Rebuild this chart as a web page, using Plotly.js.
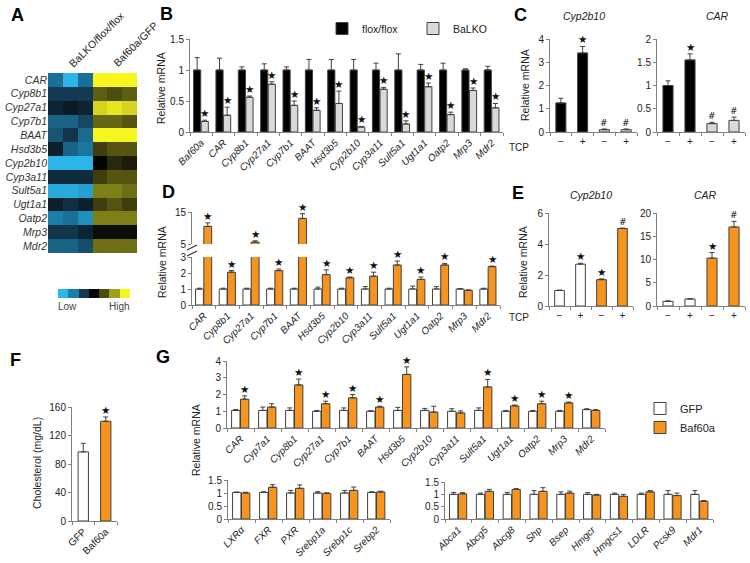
<!DOCTYPE html>
<html><head><meta charset="utf-8">
<script src="https://cdn.plot.ly/plotly-3.0.1.min.js"></script>
<style>html,body{margin:0;padding:0;background:#fff}#chart{width:750px;height:563px}</style>
</head><body><div id="chart"></div>
<script>
// ---------------- DATA ----------------
// Panel A heatmap
const heatGenes = ['CAR','Cyp8b1','Cyp27a1','Cyp7b1','BAAT','Hsd3b5','Cyp2b10','Cyp3a11','Sult5a1','Ugt1a1','Oatp2','Mrp3','Mdr2'];
const heatSamples = ['BaLKO-1','BaLKO-2','BaLKO-3','Baf60a-1','Baf60a-2','Baf60a-3'];
const heatZ = [
 [-1.8,-3,-1.8, 3,3,3],
 [-1,-1,-1, 1.2,1,1.2],
 [-0.6,-0.4,-0.6, 2.6,2.8,2.6],
 [-1.6,-1.6,-1.2, 1.3,1.3,1.1],
 [-1.4,-0.9,-1.7, 3,3,3],
 [-0.5,-1.6,-1.9, 0.8,1.1,1.1],
 [-3,-3,-3, 0,0.5,0.3],
 [-0.7,-0.7,-0.7, 0.8,1.1,1.1],
 [-2.8,-2.8,-2.6, 1.6,1.6,1.4],
 [-0.5,-0.8,-0.5, 0.8,1.1,0.8],
 [-2,-1.8,-2.3, 1.6,1.6,1.6],
 [-0.9,-0.9,-0.6, 0.1,0.1,0.1],
 [-1.6,-1.6,-1.3, 1.4,1.4,1.4]
];
const heatKey = [-3,-2,-1,0,1,2,3];
const heatColumnLabels = ['BaLKO/flox/flox','Baf60a/GFP'];

// Panel B
const bGenes = ['Baf60a','CAR','Cyp8b1','Cyp27a1','Cyp7b1','BAAT','Hsd3b5','Cyp2b10','Cyp3a11','Sult5a1','Ugt1a1','Oatp2','Mrp3','Mdr2'];
const bFlox    = [1,1,1,1,1,1,1,1,1,1,1,1,1,1];
const bFloxErr = [0.2,0.19,0.05,0.1,0.05,0.17,0.17,0.17,0.11,0.26,0.09,0.11,0.02,0.06];
const bKO      = [0.17,0.27,0.56,0.77,0.43,0.35,0.46,0.08,0.69,0.13,0.73,0.28,0.67,0.39];
const bKOErr   = [0.02,0.13,0.02,0.04,0.07,0.04,0.2,0.01,0.03,0.05,0.06,0.04,0.04,0.07];
const bKOMark  = ['★','★','★','★','★','★','★','★','★','★','★','★','★','★'];

// Panel C
const tcp = ['−','+','−','+'];
const cCyp = [1.25,3.4,0.1,0.1];
const cCypErr = [0.2,0.28,0.03,0.03];
const cCypMark = ['','★','#','#'];
const cCar = [1.0,1.55,0.18,0.25];
const cCarErr = [0.1,0.13,0.03,0.07];
const cCarMark = ['','★','#','#'];

// Panel D
const dGenes = ['CAR','Cyp8b1','Cyp27a1','Cyp7b1','BAAT','Hsd3b5','Cyp2b10','Cyp3a11','Sult5a1','Ugt1a1','Oatp2','Mrp3','Mdr2'];
const dGFP    = [1,1,1,1,1,1,1,1,1,1,1,1,1];
const dGFPErr = [0.05,0.05,0.05,0.05,0.05,0.12,0.05,0.15,0.05,0.18,0.15,0.02,0.05];
const dBaf    = [10.5,2.05,5.6,2.15,13,1.9,1.7,1.8,2.5,1.6,2.5,0.92,2.4];
const dBafErr = [1.1,0.1,0.4,0.1,1.5,0.3,0.05,0.25,0.25,0.15,0.1,0.02,0.03];
const dBafMark = ['★','★','★','★','★','★','★','★','★','★','★','','★'];

// Panel E
const eCyp = [1.0,2.7,1.7,5.0];
const eCypErr = [0.03,0.06,0.05,0.03];
const eCypMark = ['','★','★','#'];
const eCar = [1.0,1.5,10.3,17];
const eCarErr = [0.1,0.1,1.2,1.2];
const eCarMark = ['','','★','#'];

// Panel F
const fGroups = ['GFP','Baf60a'];
const fChol = [97,140];
const fErr = [12,6];
const fMark = ['','★'];

// Panel G (upper)
const gGenes = ['CAR','Cyp7a1','Cyp8b1','Cyp27a1','Cyp7b1','BAAT','Hsd3b5','Cyp2b10','Cyp3a11','Sult5a1','Ugt1a1','Oatp2','Mrp3','Mdr2'];
const gGFP    = [1.05,1.05,1.05,1.0,1.05,1.0,1.05,1.05,1.0,1.05,1.0,1.0,1.0,1.1];
const gGFPErr = [0.05,0.2,0.15,0.05,0.15,0.03,0.18,0.12,0.15,0.15,0.05,0.05,0.05,0.05];
const gBaf    = [1.72,1.25,2.57,1.45,1.8,1.25,3.2,0.95,0.9,2.45,1.32,1.45,1.5,1.05];
const gBafErr = [0.2,0.2,0.35,0.15,0.2,0.05,0.45,0.35,0.12,0.45,0.05,0.15,0.05,0.05];
const gBafMark = ['★','','★','★','★','★','★','','','★','★','★','★',''];
// Panel G (lower left)
const g2Genes = ['LXRα','FXR','PXR','Srebp1a','Srebp1c','Srebp2'];
const g2GFP    = [1.02,1.02,1.0,1.0,1.0,1.02];
const g2GFPErr = [0.02,0.03,0.1,0.05,0.1,0.03];
const g2Baf    = [1.0,1.22,1.18,0.98,1.1,1.04];
const g2BafErr = [0.03,0.1,0.13,0.03,0.13,0.03];
// Panel G (lower right)
const g3Genes = ['Abca1','Abcg5','Abcg8','Shp','Bsep','Hmgcr','Hmgcs1','LDLR','Pcsk9','Mdr1'];
const g3GFP    = [1.0,1.0,1.0,1.0,1.0,1.0,1.0,1.0,1.0,1.0];
const g3GFPErr = [0.08,0.05,0.08,0.15,0.1,0.07,0.05,0.05,0.15,0.15];
const g3Baf    = [1.02,1.12,1.2,1.12,1.05,0.97,0.92,1.1,0.95,0.72];
const g3BafErr = [0.05,0.08,0.03,0.15,0.08,0.03,0.08,0.05,0.1,0.03];

// ---------------- STYLE / LAYOUT HELPERS ----------------
const W = 750, H = 563;
const FONT = 'Liberation Sans, Arial, sans-serif';
const AX = '#808080', TXT = '#222222', OUT = '#404040';
const C_BLACK = '#000000', C_GREY = '#d9d9d9', C_ORANGE = '#f7941d', C_WHITE = '#ffffff';
const px = v => v / W;
const py = v => 1 - v / H;
const dom = (a, b) => [a / W, b / W];
const ydom = (top, bottom) => [1 - bottom / H, 1 - top / H];
const idx = arr => arr.map((_, i) => i);

function yAx(top, bottom, range, tickvals, anchor) {
  return {domain: ydom(top, bottom), range: range, tickmode: 'array', tickvals: tickvals, anchor: anchor,
    showgrid: false, zeroline: false, showline: true, linecolor: AX, linewidth: 1,
    ticks: 'outside', ticklen: 3, tickcolor: AX, tickfont: {size: 10, color: TXT}, fixedrange: true};
}
function xAx(left, right, labels, anchor, angle, italic) {
  return {domain: dom(left, right), range: [-0.5, labels.length - 0.5], tickmode: 'array',
    tickvals: idx(labels), ticktext: labels.map(l => italic ? '<i>' + l + '</i>' : l),
    tickangle: angle, anchor: anchor, showgrid: false, zeroline: false, showline: true,
    linecolor: AX, linewidth: 1, ticks: '', tickfont: {size: 10, color: TXT},
    minor: {tickmode: 'linear', tick0: -0.5, dtick: 1, ticks: 'outside', ticklen: 3, tickcolor: AX, showgrid: false},
    fixedrange: true};
}
function bars(vals, errs, color, xa, ya, offset, width, name, legend, showlegend) {
  return {type: 'bar', x: idx(vals), y: vals, xaxis: xa, yaxis: ya, offset: offset, width: width,
    marker: {color: color, line: {color: OUT, width: 1}},
    error_y: {type: 'data', symmetric: false, array: errs, arrayminus: errs.map(() => 0),
      color: OUT, thickness: 1, width: 2.5},
    name: name, legend: legend || 'legend', showlegend: !!showlegend, hoverinfo: 'skip'};
}
function marks(vals, errs, labels, xa, ya, dx, size) {
  const out = [];
  labels.forEach((t, i) => {
    if (!t) return;
    out.push({x: i + dx, y: vals[i] + errs[i], xref: xa, yref: ya, text: t, showarrow: false,
      yanchor: 'bottom', xanchor: 'center', yshift: -1,
      font: {size: t === '#' ? 9 : (size || 10.5), color: '#111', family: 'DejaVu Sans, ' + FONT}});
  });
  return out;
}
function ann(text, x, y, o) {
  return Object.assign({text: text, x: px(x), y: py(y), xref: 'paper', yref: 'paper', showarrow: false,
    xanchor: 'center', yanchor: 'middle',
    font: {size: 10, color: TXT, family: FONT}}, o || {});
}
function yTitle(x, y) {
  return ann('Relative mRNA', x, y, {textangle: -90, font: {size: 10.5, color: TXT, family: FONT}});
}

// ---------------- TRACES ----------------
const heatScale = [[0,'#2bb5e8'],[1/6,'#1c7ea8'],[2/6,'#133a52'],[0.5,'#050505'],[4/6,'#4d4d10'],[5/6,'#a0a01c'],[1,'#f7f51e']];
const traces = [];
traces.push({type: 'heatmap', z: heatZ, x: heatSamples, y: heatGenes, xaxis: 'x', yaxis: 'y',
  colorscale: heatScale, zmin: -3, zmax: 3, showscale: false, hoverinfo: 'skip'});
traces.push({type: 'heatmap', z: [heatKey], x: heatKey, y: ['key'], xaxis: 'x2', yaxis: 'y2',
  colorscale: heatScale, zmin: -3, zmax: 3, showscale: false, hoverinfo: 'skip'});

// B
traces.push(bars(bFlox, bFloxErr, C_BLACK, 'x3', 'y3', -0.34, 0.32, 'flox/flox', 'legend', true));
traces.push(bars(bKO, bKOErr, C_GREY, 'x3', 'y3', 0.0, 0.32, 'BaLKO', 'legend', true));
// C
const cColors = [C_BLACK, C_BLACK, C_GREY, C_GREY];
traces.push(bars(cCyp, cCypErr, cColors, 'x4', 'y4', -0.23, 0.46, 'Cyp2b10'));
traces.push(bars(cCar, cCarErr, cColors, 'x5', 'y5', -0.23, 0.46, 'CAR'));
// D
traces.push(bars(dGFP, dGFPErr, C_WHITE, 'x6', 'y6', -0.35, 0.33, 'GFP'));
traces.push(bars(dBaf, dBafErr, C_ORANGE, 'x6', 'y6', 0.0, 0.33, 'Baf60a'));
traces.push(bars(dBaf, dBafErr, C_ORANGE, 'x6', 'y7', 0.0, 0.33, 'Baf60a'));
// E
const eColors = [C_WHITE, C_WHITE, C_ORANGE, C_ORANGE];
traces.push(bars(eCyp, eCypErr, eColors, 'x8', 'y8', -0.23, 0.46, 'Cyp2b10'));
traces.push(bars(eCar, eCarErr, eColors, 'x9', 'y9', -0.23, 0.46, 'CAR'));
// F
traces.push(bars(fChol, fErr, [C_WHITE, C_ORANGE], 'x10', 'y10', -0.23, 0.46, 'Cholesterol'));
// G
traces.push(bars(gGFP, gGFPErr, C_WHITE, 'x11', 'y11', -0.33, 0.31, 'GFP', 'legend2', true));
traces.push(bars(gBaf, gBafErr, C_ORANGE, 'x11', 'y11', 0.0, 0.31, 'Baf60a', 'legend2', true));
traces.push(bars(g2GFP, g2GFPErr, C_WHITE, 'x12', 'y12', -0.33, 0.31, 'GFP'));
traces.push(bars(g2Baf, g2BafErr, C_ORANGE, 'x12', 'y12', 0.0, 0.31, 'Baf60a'));
traces.push(bars(g3GFP, g3GFPErr, C_WHITE, 'x13', 'y13', -0.33, 0.31, 'GFP'));
traces.push(bars(g3Baf, g3BafErr, C_ORANGE, 'x13', 'y13', 0.0, 0.31, 'Baf60a'));

// ---------------- ANNOTATIONS ----------------
let annotations = [];
const panel = (t, x, y) => ann('<b>' + t + '</b>', x, y, {font: {size: 18, color: '#000', family: FONT}});
annotations.push(panel('A', 17, 15), panel('B', 166, 14), panel('C', 520, 15),
  panel('D', 168, 192), panel('E', 518, 193), panel('F', 15, 360), panel('G', 163, 357));
// heatmap column labels & key
annotations.push(ann(heatColumnLabels[0], 64, 72, {textangle: -45, xanchor: 'left', yanchor: 'bottom', font: {size: 10.5, color: TXT, family: FONT}}));
annotations.push(ann(heatColumnLabels[1], 108, 72, {textangle: -45, xanchor: 'left', yanchor: 'bottom', font: {size: 10.5, color: TXT, family: FONT}}));
annotations.push(ann('Low', 67, 306, {font: {size: 10, color: '#444', family: FONT}}));
annotations.push(ann('High', 119, 306, {font: {size: 10, color: '#444', family: FONT}}));
// y titles
annotations.push(yTitle(161, 88), yTitle(525, 85), yTitle(162, 262), yTitle(523, 262), yTitle(196, 440));
annotations.push(ann('Cholesterol (mg/dL)', 37, 463, {textangle: -90, font: {size: 10.5, color: TXT, family: FONT}}));
// C / E headers
annotations.push(ann('<i>Cyp2b10</i>', 584, 16, {font: {size: 10.5, color: TXT, family: FONT}}));
annotations.push(ann('<i>CAR</i>', 717, 16, {font: {size: 10.5, color: TXT, family: FONT}}));
annotations.push(ann('<i>Cyp2b10</i>', 591, 195, {font: {size: 10.5, color: TXT, family: FONT}}));
annotations.push(ann('<i>CAR</i>', 705, 195, {font: {size: 10.5, color: TXT, family: FONT}}));
annotations.push(ann('TCP', 519, 147, {font: {size: 10, color: TXT, family: FONT}}));
annotations.push(ann('TCP', 519, 317, {font: {size: 10, color: TXT, family: FONT}}));
// significance marks
annotations = annotations.concat(
  marks(bKO, bKOErr, bKOMark, 'x3', 'y3', 0.16),
  marks(cCyp, cCypErr, cCypMark, 'x4', 'y4', 0),
  marks(cCar, cCarErr, cCarMark, 'x5', 'y5', 0),
  marks(eCyp, eCypErr, eCypMark, 'x8', 'y8', 0),
  marks(eCar, eCarErr, eCarMark, 'x9', 'y9', 0),
  marks(fChol, fErr, fMark, 'x10', 'y10', 0),
  marks(gBaf, gBafErr, gBafMark, 'x11', 'y11', 0.155)
);
// D marks: place in upper segment when above the break
dBafMark.forEach((t, i) => {
  if (!t) return;
  const top = dBaf[i] + dBafErr[i];
  annotations = annotations.concat(marks([top], [0], [t], 'x6', top > 3 ? 'y7' : 'y6', 0.165).map(a => Object.assign(a, {x: i + 0.165})));
});

// break marks on D axis
const shapes = [
  {type: 'line', xref: 'paper', yref: 'paper', x0: px(187), y0: py(250), x1: px(197), y1: py(245), line: {color: '#333', width: 1.2}},
  {type: 'line', xref: 'paper', yref: 'paper', x0: px(187), y0: py(256), x1: px(197), y1: py(251), line: {color: '#333', width: 1.2}}
];

// ---------------- LAYOUT ----------------
const hidden = {visible: false, fixedrange: true};
const layout = {
  width: W, height: H, margin: {l: 0, r: 0, t: 0, b: 0}, autosize: false,
  paper_bgcolor: '#fff', plot_bgcolor: 'rgba(0,0,0,0)',
  font: {family: FONT, color: TXT, size: 10},
  barmode: 'overlay', showlegend: true,
  xaxis: Object.assign({domain: dom(48, 137), anchor: 'y'}, hidden),
  yaxis: {domain: ydom(73, 253), anchor: 'x', autorange: 'reversed', tickmode: 'array', tickvals: heatGenes,
    ticktext: heatGenes.map(g => '<i>' + g + '</i>'), ticks: '', showline: false, showgrid: false, zeroline: false,
    tickfont: {size: 10.5, color: '#333'}, fixedrange: true},
  xaxis2: Object.assign({domain: dom(58, 130), anchor: 'y2'}, hidden),
  yaxis2: Object.assign({domain: ydom(289, 298), anchor: 'x2'}, hidden),
  xaxis3: xAx(190, 503, bGenes, 'y3', -45, true),
  yaxis3: yAx(39, 132, [0, 1.5], [0, 0.5, 1, 1.5], 'x3'),
  xaxis4: xAx(550, 637, tcp, 'y4', 0, false),
  yaxis4: yAx(39, 132, [0, 4], [0, 1, 2, 3, 4], 'x4'),
  xaxis5: xAx(657, 745, tcp, 'y5', 0, false),
  yaxis5: yAx(39, 132, [0, 2], [0, 0.5, 1, 1.5, 2], 'x5'),
  xaxis6: xAx(192, 500, dGenes, 'y6', -45, true),
  yaxis6: yAx(257, 305, [0, 3], [0, 1, 2, 3], 'x6'),
  yaxis7: yAx(212, 244, [5, 15], [5, 15], 'x6'),
  xaxis8: xAx(549, 633, tcp, 'y8', 0, false),
  yaxis8: yAx(213, 306, [0, 6], [0, 2, 4, 6], 'x8'),
  xaxis9: xAx(657, 745, tcp, 'y9', 0, false),
  yaxis9: yAx(213, 306, [0, 20], [0, 5, 10, 15, 20], 'x9'),
  xaxis10: xAx(72, 117, fGroups, 'y10', -45, false),
  yaxis10: yAx(407, 521, [0, 160], [0, 40, 80, 120, 160], 'x10'),
  xaxis11: xAx(227, 605, gGenes, 'y11', -45, true),
  yaxis11: yAx(361, 428, [0, 4], [0, 1, 2, 3, 4], 'x11'),
  xaxis12: xAx(228, 390, g2Genes, 'y12', -45, true),
  yaxis12: yAx(480, 519, [0, 1.5], [0, 0.5, 1, 1.5], 'x12'),
  xaxis13: xAx(445, 713, g3Genes, 'y13', -45, true),
  yaxis13: yAx(482, 519, [0, 1.5], [0, 0.5, 1, 1.5], 'x13'),
  legend: {x: px(322), y: py(14), xanchor: 'left', yanchor: 'top', orientation: 'h', bgcolor: 'rgba(0,0,0,0)',
    font: {size: 10.5, color: TXT, family: FONT}, itemwidth: 30, entrywidth: 46, itemclick: false, itemdoubleclick: false},
  legend2: {x: px(640), y: py(394), xanchor: 'left', yanchor: 'top', orientation: 'v', bgcolor: 'rgba(0,0,0,0)',
    font: {size: 11, color: TXT, family: FONT}, itemwidth: 30, tracegroupgap: 4, itemclick: false, itemdoubleclick: false},
  annotations: annotations,
  shapes: shapes
};
Plotly.newPlot('chart', traces, layout, {staticPlot: true, displayModeBar: false});
</script>
</body></html>
